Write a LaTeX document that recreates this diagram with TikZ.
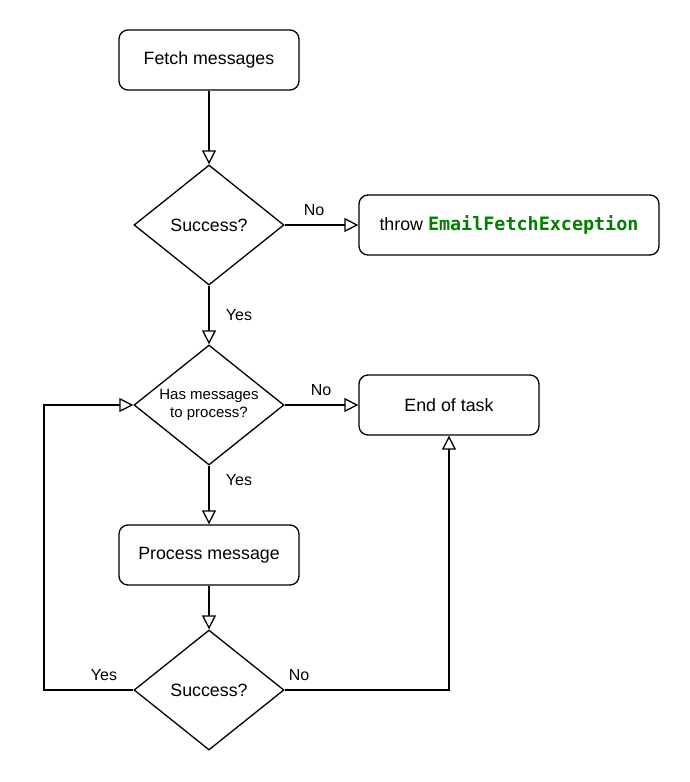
\documentclass[tikz,border=0pt]{standalone}
\usepackage{fontspec}
\setmainfont{Liberation Sans}
\newfontfamily\codefont{DejaVu Sans Mono}
\usetikzlibrary{shapes.geometric,arrows.meta}
\definecolor{codegreen}{RGB}{0,128,0}
\begin{document}
\begin{tikzpicture}[x=1pt,y=-1pt,
  box/.style={draw,line width=1.3pt,rounded corners=9pt,minimum width=180pt,minimum height=60pt,inner sep=0pt,font=\fontsize{17.8}{20}\selectfont},
  dec/.style={draw,line width=1.3pt,diamond,minimum width=150pt,minimum height=120pt,inner sep=0pt,align=center,font=\fontsize{17.8}{20}\selectfont},
  conn/.style={line width=1.3pt,-{Triangle[open,length=14pt,width=14pt,line width=1.3pt]}},
  lbl/.style={font=\fontsize{16}{18}\selectfont,inner sep=0pt}]
\useasboundingbox (0,0) rectangle (690,782);
\node[box] (fetch) at (209,60) {Fetch messages};
\node[dec] (s1) at (209,225) {Success?};
\node[box,minimum width=300pt] (throw) at (509,225) {throw {\codefont\fontsize{18.4}{20}\selectfont\bfseries\color{codegreen}EmailFetchException}};
\node[dec,label={[align=center,font=\fontsize{15}{17.5}\selectfont]center:Has messages\\to process?}] (has) at (209,405) {};
\node[box] (end) at (449,405) {End of task};
\node[box] (proc) at (209,555) {Process message};
\node[dec] (s2) at (209,690) {Success?};
\coordinate (lb) at (44,690);
\coordinate (lt) at (44,405);
\coordinate (rb) at (449,690);
\draw[conn] (fetch) -- (s1);
\draw[conn] (s1) -- (throw);
\draw[conn] (s1) -- (has);
\draw[conn] (has) -- (end);
\draw[conn] (has) -- (proc);
\draw[conn] (proc) -- (s2);
\draw[conn] (s2.west) -- (lb) -- (lt) -- (has.west);
\draw[conn] (s2.east) -- (rb) -- (end.south);
\node[lbl] (l1) at (314,210) {No};
\node[lbl] (l2) at (239,315) {Yes};
\node[lbl] (l3) at (321,390) {No};
\node[lbl] (l4) at (239,480) {Yes};
\node[lbl] (l5) at (104,675) {Yes};
\node[lbl] (l6) at (299,675) {No};
\end{tikzpicture}
\end{document}
